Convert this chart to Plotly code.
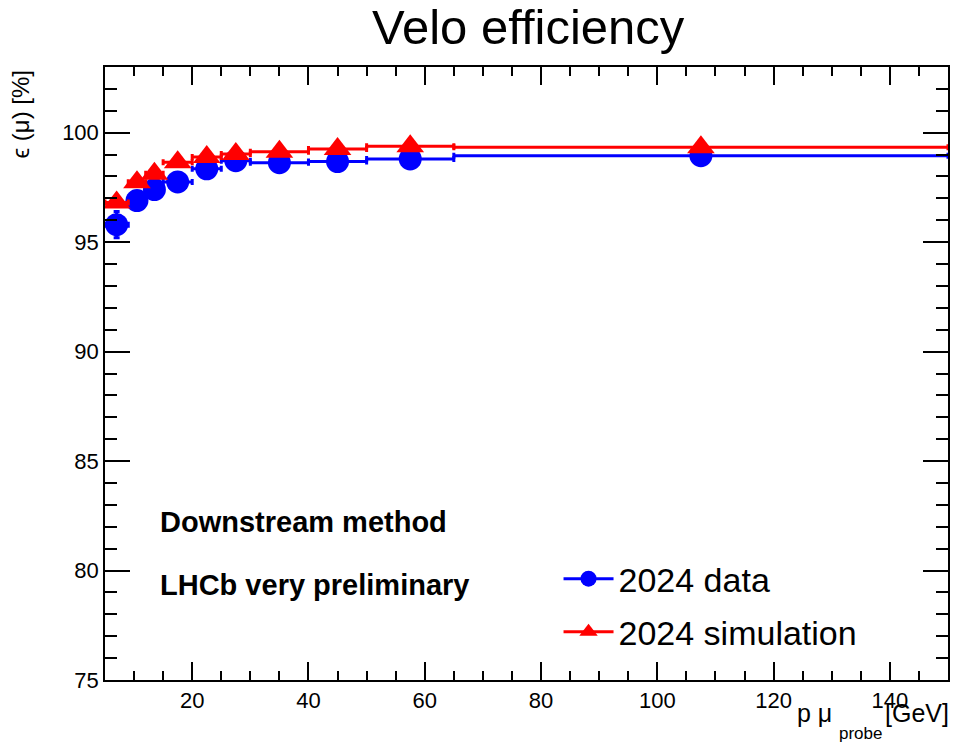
import plotly.graph_objects as go

# bins in p (GeV)
bin_lo = [5, 9, 12, 15, 20, 25, 30, 40, 50, 65]
bin_hi = [9, 12, 15, 20, 25, 30, 40, 50, 65, 150]

eff_data = [95.8, 96.9, 97.4, 97.75, 98.35, 98.72, 98.63, 98.68, 98.8, 98.95]
err_data = [0.6, 0.25, 0.2, 0.2, 0.15, 0.1, 0.1, 0.1, 0.1, 0.1]
eff_sim = [96.81, 97.74, 98.12, 98.65, 98.89, 99.03, 99.13, 99.26, 99.38, 99.33]
err_sim = [0.1, 0.1, 0.1, 0.08, 0.08, 0.06, 0.05, 0.05, 0.05, 0.05]

x_ticks = [20, 40, 60, 80, 100, 120, 140]
y_ticks = [75, 80, 85, 90, 95, 100]

centers = [(a + b) / 2 for a, b in zip(bin_lo, bin_hi)]
half = [(b - a) / 2 for a, b in zip(bin_lo, bin_hi)]

FONT = "Liberation Sans, Arial, sans-serif"
BLUE = "rgb(0,0,255)"
RED = "rgb(255,0,0)"

fig = go.Figure()

fig.add_trace(go.Scatter(
    x=centers, y=eff_data, mode="markers", showlegend=False,
    marker=dict(symbol="circle", size=23, color=BLUE),
    error_x=dict(type="data", array=half, color=BLUE, thickness=3, width=3),
    error_y=dict(type="data", array=err_data, color=BLUE, thickness=3, width=3),
))
fig.add_trace(go.Scatter(
    x=centers, y=eff_sim, mode="markers", showlegend=False,
    marker=dict(symbol="triangle-up", size=24, color=RED),
    error_x=dict(type="data", array=half, color=RED, thickness=3, width=3),
    error_y=dict(type="data", array=err_sim, color=RED, thickness=3, width=3),
))
# legend entries (line + marker)
fig.add_trace(go.Scatter(
    x=[None], y=[None], mode="lines+markers", name="2024 data",
    legendgroup="a",
    line=dict(color=BLUE, width=3),
    marker=dict(symbol="circle", size=22, color=BLUE),
))
fig.add_trace(go.Scatter(
    x=[None], y=[None], mode="lines+markers", name="2024 simulation",
    legendgroup="b",
    line=dict(color=RED, width=3),
    marker=dict(symbol="triangle-up", size=22, color=RED),
))

axis_common = dict(
    showgrid=False, zeroline=False, showline=True, linecolor="black",
    linewidth=1.5, mirror="allticks", ticks="inside", tickcolor="black",
    tickwidth=1.5, tickfont=dict(family=FONT, size=22, color="black"),
)

fig.update_xaxes(
    range=[5, 150], tickvals=x_ticks, ticklen=18,
    minor=dict(dtick=5, tick0=0, ticks="inside", ticklen=9, tickwidth=1.5,
               tickcolor="black", showgrid=False),
    **axis_common,
)
fig.update_yaxes(
    range=[75, 103], tickvals=y_ticks, ticklen=25,
    minor=dict(dtick=1, tick0=75, ticks="inside", ticklen=12, tickwidth=1.5,
               tickcolor="black", showgrid=False),
    **axis_common,
)

fig.update_layout(
    width=955, height=744,
    margin=dict(l=105, r=5, t=67, b=64),
    paper_bgcolor="white", plot_bgcolor="white",
    font=dict(family=FONT, color="black"),
    title=dict(text="Velo efficiency", font=dict(family=FONT, size=49, color="black"),
               x=0.502, xref="paper", xanchor="center",
               y=1 - 27 / 744, yref="container", yanchor="middle"),
    legend=dict(x=0.538, y=0.212, xanchor="left", yanchor="top",
                bgcolor="rgba(0,0,0,0)", borderwidth=0,
                font=dict(family=FONT, size=34, color="black"),
                itemwidth=50, tracegroupgap=6),
    annotations=[
        dict(text="<b>Downstream method</b>", xref="paper", yref="paper",
             x=0.063, y=0.258, xanchor="left", yanchor="middle", showarrow=False,
             font=dict(family=FONT, size=29, color="black")),
        dict(text="<b>LHCb very preliminary</b>", xref="paper", yref="paper",
             x=0.063, y=0.155, xanchor="left", yanchor="middle", showarrow=False,
             font=dict(family=FONT, size=29, color="black")),
        dict(text="ϵ (μ) [%]", xref="paper", yref="paper", textangle=-90,
             x=-0.1006, y=0.998, xanchor="center", yanchor="top", showarrow=False,
             font=dict(family=FONT, size=24, color="black")),
        # x-axis title, ROOT-style subscript placement
        dict(text="p μ", xref="paper", yref="paper",
             x=(836 - 105) / 845, y=-0.054, xanchor="right", yanchor="middle",
             showarrow=False, font=dict(family=FONT, size=25, color="black")),
        dict(text="probe", xref="paper", yref="paper",
             x=(839 - 105) / 845, y=-0.087, xanchor="left", yanchor="middle",
             showarrow=False, font=dict(family=FONT, size=17, color="black")),
        dict(text="[GeV]", xref="paper", yref="paper",
             x=(953 - 105) / 845, y=-0.054, xanchor="right", yanchor="middle",
             showarrow=False, font=dict(family=FONT, size=25, color="black")),
    ],
)

fig.write_html("out.html")
